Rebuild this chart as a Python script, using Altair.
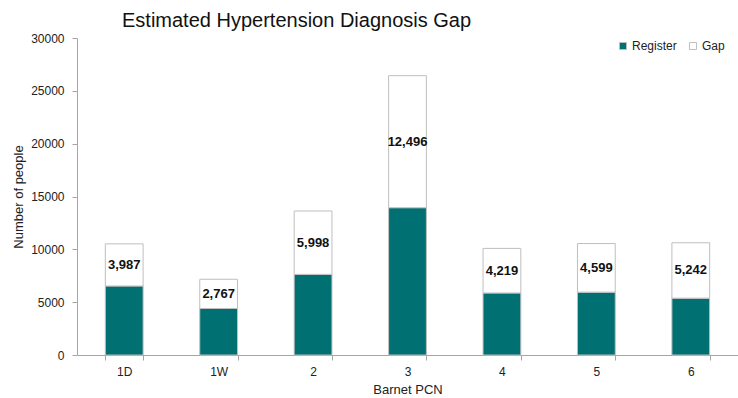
import altair as alt
import pandas as pd

pcn = ["1D", "1W", "2", "3", "4", "5", "6"]
register = [6530, 4400, 7630, 13940, 5870, 5950, 5380]
gap = [3987, 2767, 5998, 12496, 4219, 4599, 5242]
series = ["Register", "Gap"]

rows = []
for p, r, g in zip(pcn, register, gap):
    rows.append({"pcn": p, "series": "Register", "value": r, "order": 0})
    rows.append({"pcn": p, "series": "Gap", "value": g, "order": 1})
df = pd.DataFrame(rows)

lab = pd.DataFrame({
    "pcn": pcn,
    "mid": [r + g / 2 for r, g in zip(register, gap)],
    "label": [f"{g:,}" for g in gap],
})

FONT = "Liberation Sans"
TEAL = "#007073"
EDGE = "#bfbfbf"

x_enc = alt.X(
    "pcn:N", sort=pcn, title="Barnet PCN",
    scale=alt.Scale(paddingInner=0.6, paddingOuter=0.3),
    axis=alt.Axis(labelAngle=0, tickBand="extent", labelPadding=6, titlePadding=6),
)

bars = alt.Chart(df).mark_bar(stroke=EDGE, strokeWidth=1).encode(
    x=x_enc,
    y=alt.Y("sum(value):Q", title="Number of people",
            scale=alt.Scale(domain=[0, 30000]),
            axis=alt.Axis(values=[0, 5000, 10000, 15000, 20000, 25000, 30000],
                          format="d", grid=False, labelPadding=8, titlePadding=5)),
    color=alt.Color("series:N", scale=alt.Scale(domain=series, range=[TEAL, "#ffffff"]),
                    legend=alt.Legend(title=None, orient="none", direction="horizontal",
                                      legendX=540, legendY=2, symbolType="square",
                                      symbolSize=50, symbolStrokeColor=EDGE,
                                      symbolStrokeWidth=1, labelFontSize=12,
                                      labelFont=FONT, labelColor="#222222",
                                      columnPadding=10, labelOffset=3)),
    order=alt.Order("order:Q", sort="ascending"),
)

text = alt.Chart(lab).mark_text(fontWeight="bold", fontSize=13, font=FONT,
                                color="#111111").encode(
    x=alt.X("pcn:N", sort=pcn),
    y=alt.Y("mid:Q"),
    text="label:N",
)

chart = alt.layer(bars, text).properties(
    width=661, height=317,
    title=alt.TitleParams("Estimated Hypertension Diagnosis Gap", anchor="start",
                          frame="group", dx=45, offset=1, fontSize=20, font=FONT,
                          fontWeight="normal", color="#111111"),
    autosize=alt.AutoSizeParams(type="none"),
    padding={"left": 77, "top": 38, "right": 0, "bottom": 43},
).configure_view(stroke=None).configure_axis(
    domainColor="#a6a6a6", tickColor="#a6a6a6", tickSize=5,
    labelFont=FONT, titleFont=FONT, labelFontSize=12, titleFontSize=13,
    labelColor="#222222", titleColor="#222222", titleFontWeight="normal",
)

chart.save("out.html", embed_options={"renderer": "svg", "actions": False})
